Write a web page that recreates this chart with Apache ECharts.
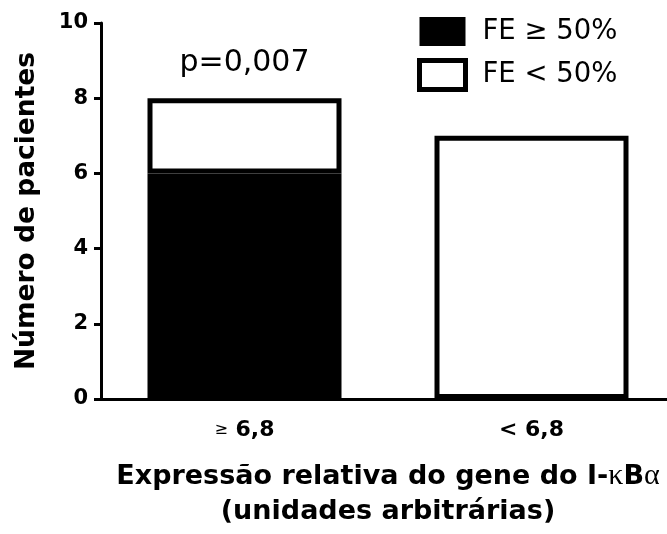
<!DOCTYPE html>
<html>
<head>
<meta charset="utf-8">
<script src="https://cdn.jsdelivr.net/npm/echarts@6/dist/echarts.min.js"></script>
<style>
html,body{margin:0;padding:0;background:#fff;overflow:hidden;}
#c{width:700px;height:534px;}
</style>
</head>
<body>
<div id="c"></div>
<script>
const categories = ['≥ 6,8', '< 6,8'];
const seriesNames = ['FE ≥ 50%', 'FE < 50%'];
const feHigh = [6, 0];
const feLow = [2, 7];
const yMin = 0, yMax = 10, yInterval = 2;
const yAxisTitle = 'Número de pacientes';
const xAxisTitleLine1 = ['Expressão relativa do gene do I-', 'κ', 'B', 'α'];
const xAxisTitleLine2 = '(unidades arbitrárias)';
const pAnnotation = 'p=0,007';

const FONT = 'DejaVu Sans';
const chart = echarts.init(document.getElementById('c'), null, {renderer: 'canvas'});

function toData(arr) { return arr.map(v => v === 0 ? '-' : v); }

const lowData = toData(feLow).map((v, i) => i === 0 ? {
  value: v,
  label: {
    show: true, position: 'top', distance: 20,
    formatter: pAnnotation,
    fontFamily: FONT, fontSize: 30, color: '#000'
  }
} : v);

chart.setOption({
  backgroundColor: '#fff',
  animation: false,
  grid: {left: 101, top: 23, width: 574, bottom: 130, containLabel: false},
  legend: {
    orient: 'vertical', left: 417, top: 17, padding: 0,
    itemWidth: 46, itemHeight: 29, itemGap: 12,
    icon: 'rect',
    textStyle: {fontFamily: FONT, fontSize: 27.5, color: '#000', padding: [2, 0, 0, 12]},
    data: [
      {name: seriesNames[0], itemStyle: {color: '#000', borderColor: '#000', borderWidth: 0}},
      {name: seriesNames[1], itemStyle: {color: '#fff', borderColor: '#000', borderWidth: 5}}
    ]
  },
  xAxis: {
    type: 'category', data: categories,
    axisLine: {lineStyle: {color: '#000', width: 3}},
    axisTick: {alignWithLabel: true, length: 9, lineStyle: {color: '#000', width: 3}},
    axisLabel: {
      margin: 20, color: '#000', fontFamily: FONT, fontSize: 22, fontWeight: 'bold',
      formatter: v => v.startsWith('≥') ? '{g|≥}' + v.slice(1) : v,
      rich: {g: {fontFamily: FONT, fontSize: 16, fontWeight: 'normal', color: '#000'}}
    },
    name: '{b|' + xAxisTitleLine1[0] + '}{s|' + xAxisTitleLine1[1] + '}{b|' + xAxisTitleLine1[2] + '}{s|' + xAxisTitleLine1[3] + '}\n{b|' + xAxisTitleLine2 + '}',
    nameLocation: 'middle', nameGap: 60,
    nameTextStyle: {
      color: '#000', fontFamily: FONT, fontSize: 27, fontWeight: 'bold', lineHeight: 35,
      rich: {
        b: {fontFamily: FONT, fontSize: 27, fontWeight: 'bold', color: '#000', lineHeight: 35},
        s: {fontFamily: 'Liberation Serif', fontSize: 30, fontWeight: 'normal', color: '#000', lineHeight: 35}
      }
    }
  },
  yAxis: {
    type: 'value', min: yMin, max: yMax, interval: yInterval,
    splitLine: {show: false},
    axisLine: {show: true, lineStyle: {color: '#000', width: 3}},
    axisTick: {show: true, length: 7, lineStyle: {color: '#000', width: 3}},
    axisLabel: {margin: 13, color: '#000', fontFamily: FONT, fontSize: 21, fontWeight: 'bold'},
    name: yAxisTitle, nameLocation: 'middle', nameGap: 60,
    nameTextStyle: {color: '#000', fontFamily: FONT, fontSize: 26.5, fontWeight: 'bold'}
  },
  series: [
    {
      name: seriesNames[0], type: 'bar', stack: 'fe', barWidth: 194,
      itemStyle: {color: '#000', borderColor: '#000', borderWidth: 5},
      data: toData(feHigh)
    },
    {
      name: seriesNames[1], type: 'bar', stack: 'fe', barWidth: 194,
      itemStyle: {color: '#fff', borderColor: '#000', borderWidth: 5},
      data: lowData
    }
  ]
});
</script>
</body>
</html>
